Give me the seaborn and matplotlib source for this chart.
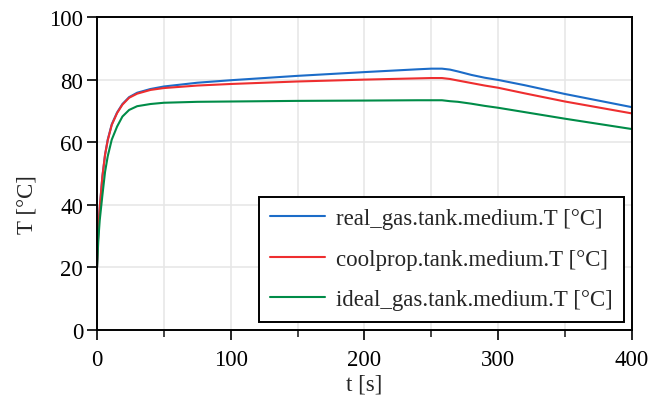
import numpy as np
import pandas as pd
import matplotlib
matplotlib.use("Agg")
import matplotlib.pyplot as plt
from matplotlib.ticker import MultipleLocator
import seaborn as sns

# Simulation time [s]
t = [0, 1, 2, 4, 6, 8, 11, 15, 19, 24, 30, 40, 50, 75, 100, 150, 200,
     240, 250, 258, 264, 270, 280, 290, 300, 320, 350, 400]

# Tank medium temperature [°C] for the three medium models
real_gas = [20, 32, 39, 49, 56, 60.8, 65.7, 69.5, 72.2, 74.4, 75.8, 77.0, 77.8,
            79.0, 79.8, 81.2, 82.4, 83.3, 83.5, 83.5, 83.2, 82.6, 81.5, 80.6,
            79.9, 78.2, 75.4, 71.2]
coolprop = [20, 32, 39, 49, 56, 60.6, 65.5, 69.3, 72.0, 74.2, 75.5, 76.7, 77.3,
            78.1, 78.6, 79.4, 80.0, 80.4, 80.5, 80.5, 80.2, 79.7, 78.9, 78.1,
            77.4, 75.6, 73.0, 69.2]
ideal_gas = [20, 29, 35, 43, 50.5, 55.5, 60.8, 65.0, 68.2, 70.3, 71.5, 72.2, 72.6,
             72.9, 73.0, 73.2, 73.3, 73.4, 73.4, 73.4, 73.1, 72.9, 72.3, 71.6,
             71.0, 69.6, 67.5, 64.2]

labels = ["real_gas.tank.medium.T [°C]",
          "coolprop.tank.medium.T [°C]",
          "ideal_gas.tank.medium.T [°C]"]
colors = ["#1c6cc8", "#ee2e2f", "#008c48"]

df = pd.concat([
    pd.DataFrame({"t": t, "T": vals, "series": lab})
    for vals, lab in zip([real_gas, coolprop, ideal_gas], labels)
], ignore_index=True)

sns.set_style("ticks")
plt.rcParams["font.family"] = ["Liberation Serif", "DejaVu Serif"]

FS = 16.5

fig = plt.figure(figsize=(6.61, 4.10), dpi=100)
ax = fig.add_axes([0.1468, 0.193, 0.809, 0.763])

sns.lineplot(data=df, x="t", y="T", hue="series", hue_order=labels,
             palette=colors, linewidth=1.5, ax=ax, sort=False)

ax.set_xlim(0, 400)
ax.set_ylim(0, 100)
ax.xaxis.set_major_locator(MultipleLocator(100))
ax.xaxis.set_minor_locator(MultipleLocator(50))
ax.yaxis.set_major_locator(MultipleLocator(20))

ax.grid(True, which="both", axis="x", color="#e6e6e6", linewidth=1.1)
ax.grid(True, which="major", axis="y", color="#e6e6e6", linewidth=1.1)
ax.set_axisbelow(True)

for s in ax.spines.values():
    s.set_linewidth(1.4)
    s.set_color("black")
    s.set_visible(True)

ax.tick_params(axis="both", which="major", direction="out", length=7.5,
               width=1.2, labelsize=FS, colors="black")
ax.tick_params(axis="x", which="major", pad=6)
ax.tick_params(axis="y", which="major", pad=2.5)
ax.tick_params(axis="x", which="minor", direction="out", length=4.8, width=1.2)

ax.set_xlabel("t [s]", fontsize=FS, labelpad=3)
ax.set_ylabel("T [°C]", fontsize=FS)
ax.yaxis.set_label_coords(-0.112, 0.403)

leg = ax.legend(loc="lower right", fontsize=FS, frameon=True, fancybox=False,
                edgecolor="black", framealpha=1, handlelength=2.4,
                handletextpad=0.45, labelspacing=0.85, borderpad=0.5,
                borderaxespad=0.35)
leg.get_frame().set_linewidth(1.4)

fig.savefig("out.png", dpi=100)
